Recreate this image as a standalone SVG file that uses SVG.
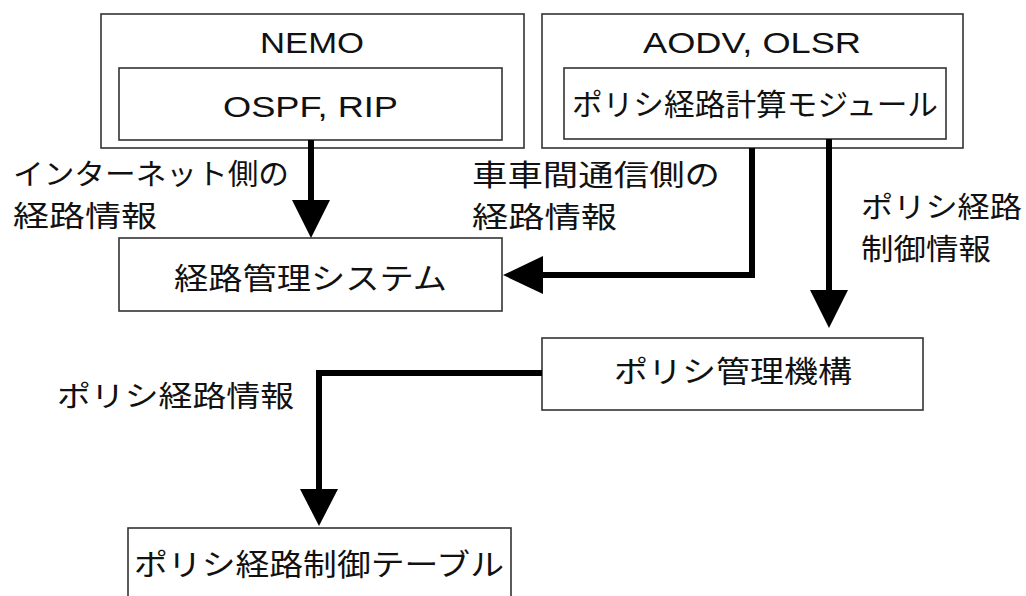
<svg xmlns="http://www.w3.org/2000/svg" width="1026" height="596" viewBox="0 0 1026 596">
<defs>
<style>
.box{fill:#fff;stroke:#333;stroke-width:1.6}
.lat{font-family:"Liberation Sans",Arial,sans-serif;font-size:30px;fill:#111}
.jp{font-family:"Noto Sans CJK JP","Noto Sans",sans-serif;font-size:30px;fill:#111}
.lbl{font-size:29px}
.mid{text-anchor:middle}
.conn{fill:none;stroke:#000;stroke-width:6}
.head{fill:#000}
</style>
</defs>
<rect width="1026" height="596" fill="#fff"/>
<g id="nemo">
<rect class="box" x="101" y="14" width="423" height="134"/>
<text class="lat mid" x="312" y="53" textLength="104" lengthAdjust="spacingAndGlyphs">NEMO</text>
</g>
<g id="ospf">
<rect class="box" x="119" y="68" width="383" height="72"/>
<text class="lat mid" x="310.5" y="117" textLength="175" lengthAdjust="spacingAndGlyphs">OSPF, RIP</text>
</g>
<g id="aodv">
<rect class="box" x="542" y="14" width="421" height="134"/>
<text class="lat mid" x="752" y="53" textLength="218" lengthAdjust="spacingAndGlyphs">AODV, OLSR</text>
</g>
<g id="calc">
<rect class="box" x="564" y="68" width="382" height="71"/>
<text class="jp mid" x="755" y="115" font-size="27" textLength="366" lengthAdjust="spacingAndGlyphs">ポリシ経路計算モジュール</text>
</g>
<g id="routemgr">
<rect class="box" x="119" y="238" width="383" height="73"/>
<text class="jp mid" x="310.5" y="289" textLength="273" lengthAdjust="spacingAndGlyphs">経路管理システム</text>
</g>
<g id="policymgr">
<rect class="box" x="542" y="338" width="381" height="72"/>
<text class="jp mid" x="733" y="382" textLength="238" lengthAdjust="spacingAndGlyphs">ポリシ管理機構</text>
</g>
<g id="table">
<rect class="box" x="128" y="528" width="383" height="80"/>
<text class="jp mid" x="319" y="575" textLength="370" lengthAdjust="spacingAndGlyphs">ポリシ経路制御テーブル</text>
</g>
<g id="connectors">
<path class="conn" d="M311 140 V202"/>
<polygon class="head" points="292,200 330,200 311,238"/>
<path class="conn" d="M752 148 V275 H541"/>
<polygon class="head" points="543,256 543,294 503,275"/>
<path class="conn" d="M829 139 V292"/>
<polygon class="head" points="810,290 848,290 829,328"/>
<path class="conn" d="M542 373 H319 V491"/>
<polygon class="head" points="300,489 338,489 319,526"/>
</g>
<g id="labels">
<text class="jp lbl" x="13" y="185" textLength="276" lengthAdjust="spacingAndGlyphs">インターネット側の</text>
<text class="jp lbl" x="13" y="227" textLength="144" lengthAdjust="spacingAndGlyphs">経路情報</text>
<text class="jp lbl" x="472" y="186" textLength="248" lengthAdjust="spacingAndGlyphs">車車間通信側の</text>
<text class="jp lbl" x="472" y="228" textLength="145" lengthAdjust="spacingAndGlyphs">経路情報</text>
<text class="jp lbl" x="861" y="218" textLength="161" lengthAdjust="spacingAndGlyphs">ポリシ経路</text>
<text class="jp lbl" x="861" y="260" textLength="130" lengthAdjust="spacingAndGlyphs">制御情報</text>
<text class="jp lbl" x="57" y="407" textLength="237" lengthAdjust="spacingAndGlyphs">ポリシ経路情報</text>
</g>
</svg>
